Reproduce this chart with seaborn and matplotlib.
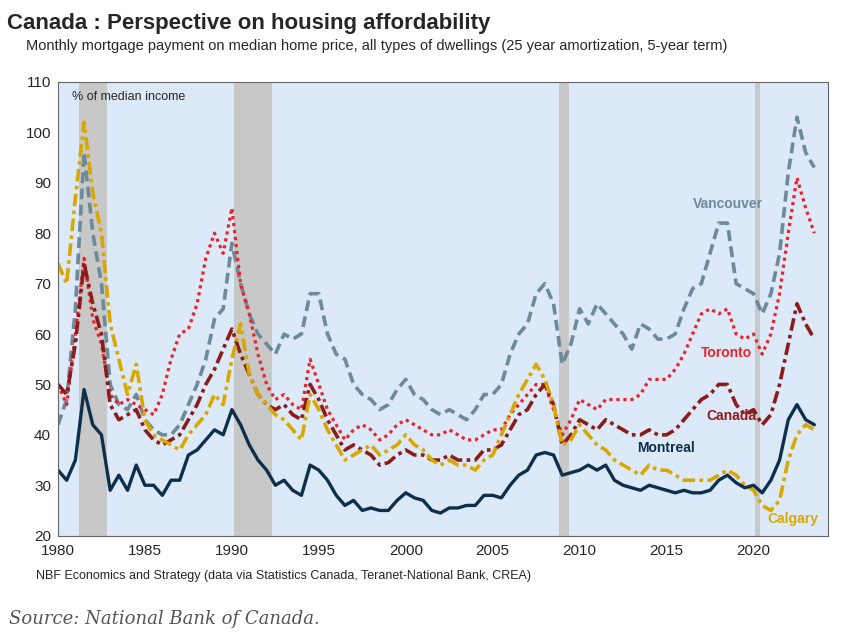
import numpy as np
import pandas as pd
import matplotlib.pyplot as plt
import seaborn as sns

# half-year points, 1980.0 .. 2023.5
years = [1980 + i * 0.5 for i in range(88)]

montreal = [33, 31, 35, 49, 42, 40, 29, 32, 29, 34, 30, 30, 28, 31, 31, 36, 37, 39, 41, 40,
            45, 42, 38, 35, 33, 30, 31, 29, 28, 34, 33, 31, 28, 26, 27, 25, 25.5, 25, 25, 27,
            28.5, 27.5, 27, 25, 24.5, 25.5, 25.5, 26, 26, 28, 28, 27.5, 30, 32, 33, 36, 36.5, 36, 32, 32.5,
            33, 34, 33, 34, 31, 30, 29.5, 29, 30, 29.5, 29, 28.5, 29, 28.5, 28.5, 29, 31, 32, 30.5, 29.5,
            30, 28.5, 31, 35, 43, 46, 43, 42]
calgary = [74, 70, 87, 102, 88, 80, 62, 55, 48, 54, 43, 40, 39, 38, 37, 40, 42, 44, 48, 46,
           55, 62, 52, 48, 46, 44, 43, 41, 39, 48, 45, 41, 38, 35, 36, 37, 38, 36, 37, 38,
           40, 38, 37, 35, 34, 35, 34, 34, 33, 35, 36, 40, 44, 48, 51, 54, 51, 46, 38, 39,
           42, 40, 38, 37, 35, 34, 33, 32, 34, 33, 33, 32, 31, 31, 31, 31, 32, 33, 32, 30,
           29, 26, 25, 27, 35, 40, 42, 41]
canada = [50, 48, 58, 74, 66, 60, 46, 43, 44, 45, 41, 39, 38, 39, 40, 43, 46, 50, 53, 57,
          61, 56, 52, 48, 46, 45, 46, 44, 43, 50, 47, 43, 40, 37, 38, 37, 36, 34, 34.5, 36,
          37, 36, 36, 35, 35, 36, 35, 35, 35, 37, 37, 38, 41, 44, 45, 48, 50, 46, 38, 40,
          43, 42, 41, 43, 42, 41, 40, 40, 41, 40, 40, 41, 43, 45, 47, 48, 50, 50, 46, 44,
          45, 42, 44, 50, 58, 66, 62, 59]
toronto = [50, 46, 60, 75, 63, 58, 48, 46, 47, 46, 45, 44, 48, 55, 60, 61, 66, 75, 80, 76,
           85, 70, 64, 56, 50, 47, 48, 46, 45, 55, 50, 45, 42, 39, 41, 42, 41, 39, 40, 42,
           43, 42, 41, 40, 40, 41, 40, 39, 39, 40, 41, 41, 44, 46, 48, 50, 50, 45, 40, 43,
           47, 46, 45, 47, 47, 47, 47, 48, 51, 51, 51, 53, 56, 60, 64, 65, 64, 65, 60, 59,
           60, 56, 60, 68, 80, 91, 85, 80]
vancouver = [42, 47, 65, 96, 80, 70, 50, 46, 45, 48, 43, 41, 40, 40, 42, 46, 50, 55, 63, 65,
             78, 70, 64, 60, 58, 56, 60, 59, 60, 68, 68, 60, 56, 55, 50, 48, 47, 45, 46, 49,
             51, 48, 47, 45, 44, 45, 44, 43, 45, 48, 48, 50, 56, 60, 62, 68, 70, 66, 54, 58,
             65, 62, 66, 64, 62, 60, 57, 62, 61, 59, 59, 60, 65, 69, 70, 76, 82, 82, 70, 69,
             68, 64, 68, 76, 92, 103, 96, 93]

recessions = [(1981.2, 1982.8), (1990.1, 1992.3), (2008.8, 2009.4), (2020.1, 2020.4)]

series = [
    ("Vancouver", vancouver, "#6e8a99", (0, (3, 1.5)), 2.6),
    ("Toronto", toronto, "#e8232b", (0, (1, 1.2)), 2.3),
    ("Canada", canada, "#8c1c1c", (0, (3.5, 1.2, 1, 1.2)), 2.6),
    ("Calgary", calgary, "#d9a800", (0, (3.5, 1.2, 1, 1.2)), 2.6),
    ("Montreal", montreal, "#0d2f4b", "-", 2.4),
]

sns.set_style("white")
plt.rcParams['font.family'] = ['Liberation Sans', 'DejaVu Sans']

fig = plt.figure(figsize=(8.53, 6.4), dpi=100)
ax = fig.add_axes([0.068, 0.163, 0.903, 0.709])
ax.set_facecolor("#dce9f9")

for a, b in recessions:
    ax.axvspan(a, b, color="#c8c8c8", zorder=0.5, lw=0)

for name, vals, col, ls, lw in series:
    sns.lineplot(x=years, y=vals, ax=ax, color=col, linestyle=ls, linewidth=lw)

labels = {"Vancouver": (2016.5, 85), "Toronto": (2017, 55.5), "Canada": (2017.3, 43),
          "Montreal": (2013.3, 36.5), "Calgary": (2020.8, 22.5)}
for name, vals, col, ls, lw in series:
    x, y = labels[name]
    ax.text(x, y, name, color=col, fontsize=10, fontweight="bold")

ax.set_xlim(1980, 2024.3)
ax.set_ylim(20, 110)
ax.set_xticks(range(1980, 2021, 5))
ax.set_yticks(range(20, 111, 10))
ax.tick_params(labelsize=11, length=0)
ax.tick_params(axis="x", pad=6)
ax.tick_params(axis="y", pad=5)
for s in ax.spines.values():
    s.set_color("#666666")
ax.text(1980.8, 107, "% of median income", fontsize=9, va="center")

fig.text(0.008, 0.963, "Canada : Perspective on housing affordability", fontsize=16,
         fontweight="bold", va="center")
fig.text(0.03, 0.928, "Monthly mortgage payment on median home price, all types of dwellings "
         "(25 year amortization, 5-year term)", fontsize=10.5, va="center")
fig.text(0.042, 0.1, "NBF Economics and Strategy (data via Statistics Canada, Teranet-National Bank, CREA)",
         fontsize=9, va="center")
fig.text(0.01, 0.033, "Source: National Bank of Canada.", fontsize=13, style="italic",
         family="DejaVu Serif", color="#555555", va="center")

fig.savefig("out.png", dpi=100)
